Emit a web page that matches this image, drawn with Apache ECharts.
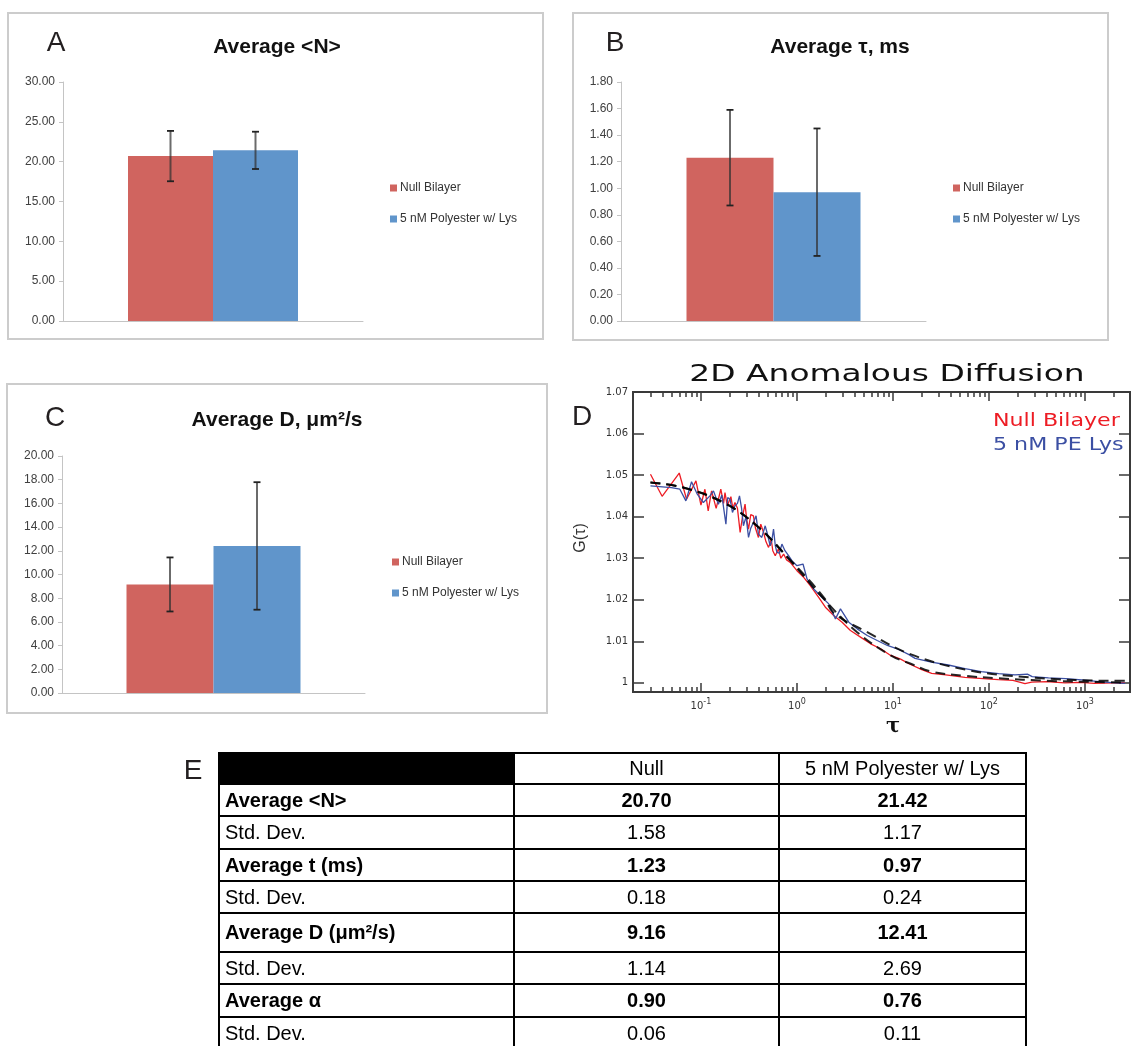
<!DOCTYPE html>
<html>
<head>
<meta charset="utf-8">
<script src="https://cdn.jsdelivr.net/npm/echarts@6.0.0/dist/echarts.min.js"></script>
<style>
html, body { margin: 0; padding: 0; background: #fff; }
#main { width: 1135px; height: 1046px; }
</style>
</head>
<body>
<div id="main"></div>
<script>
// A-C: one category, two groups, error bar = half width
var groups = ['Null Bilayer', '5 nM Polyester w/ Lys'];
var avgN = [20.70, 21.42];
var errN = [3.16, 2.34];
var avgTau = [1.23, 0.97];
var errTau = [0.36, 0.48];
var avgD = [9.16, 12.41];
var errD = [2.28, 5.38];

// D: [tau, G(tau)]
var nullData = [
  [0.0298, 1.0502], [0.0394, 1.0449], [0.0594, 1.0505], [0.0708, 1.0442], [0.0887, 1.0486],
  [0.100, 1.0428], [0.110, 1.0466], [0.119, 1.0414], [0.129, 1.0462], [0.144, 1.0420],
  [0.161, 1.0466], [0.172, 1.0432], [0.178, 1.0458], [0.188, 1.0426], [0.205, 1.0448],
  [0.215, 1.0420], [0.226, 1.0434], [0.240, 1.0420], [0.256, 1.0362], [0.270, 1.0398],
  [0.288, 1.0430], [0.300, 1.0392], [0.313, 1.0370], [0.330, 1.0405], [0.352, 1.0402],
  [0.370, 1.0372], [0.397, 1.0350], [0.420, 1.0382], [0.449, 1.0362], [0.475, 1.0340],
  [0.506, 1.0326], [0.540, 1.0345], [0.560, 1.0318], [0.594, 1.0306], [0.640, 1.0322],
  [0.680, 1.0300], [0.726, 1.0310], [0.780, 1.0296], [0.851, 1.0290], [1.00, 1.0270],
  [1.175, 1.0254], [1.377, 1.0234], [1.683, 1.0206], [1.977, 1.0182], [2.415, 1.0162],
  [2.951, 1.0146], [3.606, 1.0126], [4.592, 1.0110], [5.848, 1.0094], [7.430, 1.0082],
  [9.462, 1.0066], [12.02, 1.0057], [14.69, 1.0046], [19.95, 1.0032], [25.29, 1.0023],
  [35.48, 1.0019], [56.23, 1.0013], [79.43, 1.0011], [125.0, 1.0008], [177.8, 1.0006],
  [237.1, 0.9998], [278.6, 1.0002], [398.1, 1.0003], [616.6, 1.0000], [891.3, 1.0001],
  [1259, 0.9999], [1995, 1.0000], [2612, 1.0000]
];
var lysData = [
  [0.0298, 1.0474], [0.0493, 1.0470], [0.0603, 1.0466], [0.0697, 1.0438], [0.0798, 1.0484],
  [0.0916, 1.0454], [0.106, 1.0434], [0.124, 1.0450], [0.135, 1.0462], [0.152, 1.0430],
  [0.165, 1.0452], [0.182, 1.0382], [0.190, 1.0446], [0.201, 1.0442], [0.213, 1.0410],
  [0.226, 1.0426], [0.240, 1.0432], [0.252, 1.0450], [0.265, 1.0420], [0.277, 1.0378],
  [0.295, 1.0400], [0.313, 1.0350], [0.330, 1.0372], [0.352, 1.0386], [0.375, 1.0402],
  [0.397, 1.0358], [0.430, 1.0350], [0.467, 1.0378], [0.490, 1.0360], [0.526, 1.0330],
  [0.545, 1.0340], [0.570, 1.0370], [0.595, 1.0330], [0.618, 1.0314], [0.655, 1.0312],
  [0.697, 1.0334], [0.750, 1.0318], [0.818, 1.0306], [0.900, 1.0292], [1.00, 1.0282],
  [1.156, 1.0286], [1.274, 1.0250], [1.493, 1.0226], [1.824, 1.0206], [2.143, 1.0190],
  [2.518, 1.0154], [2.838, 1.0178], [3.467, 1.0146], [4.236, 1.0130], [5.395, 1.0114],
  [6.855, 1.0102], [8.730, 1.0090], [11.09, 1.0082], [14.69, 1.0068], [16.98, 1.0059],
  [25.12, 1.0050], [37.67, 1.0043], [56.23, 1.0034], [83.18, 1.0027], [125.9, 1.0022],
  [186.2, 1.0019], [251.2, 1.0021], [281.8, 1.0015], [416.9, 1.0012], [631.0, 1.0010],
  [924.7, 1.0007], [1585, 1.0002], [2612, 0.9999]
];
var nullFit = [
  [0.0298, 1.0482], [0.0653, 1.0470], [0.171, 1.0434], [0.382, 1.0378], [0.851, 1.0294],
  [1.901, 1.0202], [4.236, 1.0122], [9.462, 1.0066], [15.31, 1.0046], [25.29, 1.0027],
  [56.23, 1.0017], [125.0, 1.0011], [398.1, 1.0005], [1380, 1.0002], [2612, 1.0001]
];
var lysFit = [
  [0.0298, 1.0482], [0.0653, 1.0470], [0.171, 1.0434], [0.382, 1.0378], [0.851, 1.0296],
  [1.901, 1.0206], [2.415, 1.0168], [5.395, 1.0122], [14.45, 1.0071], [56.23, 1.0032],
  [278.6, 1.0013], [2239, 1.0005], [2612, 1.0005]
];
var decadeTicks = [0.1, 1, 10, 100, 1000];
var minorTicks = [0.03, 0.04, 0.05, 0.06, 0.07, 0.08, 0.09,
  0.2, 0.3, 0.4, 0.5, 0.6, 0.7, 0.8, 0.9,
  2, 3, 4, 5, 6, 7, 8, 9,
  20, 30, 40, 50, 60, 70, 80, 90,
  200, 300, 400, 500, 600, 700, 800, 900, 2000];
var gTicks = [1, 1.01, 1.02, 1.03, 1.04, 1.05, 1.06, 1.07];

// E
var colHead = ['Null', '5 nM Polyester w/ Lys'];
var rowNames = ['Average <N>', 'Std. Dev.', 'Average t (ms)', 'Std. Dev.',
  'Average D (\u03bcm\u00b2/s)', 'Std. Dev.', 'Average \u03b1', 'Std. Dev.'];
var nullVals = ['20.70', '1.58', '1.23', '0.18', '9.16', '1.14', '0.90', '0.06'];
var lysVals = ['21.42', '1.17', '0.97', '0.24', '12.41', '2.69', '0.76', '0.11'];

var RED = '#D0645F', BLUE = '#6095CB';
var barFont = '"Liberation Sans", Arial, sans-serif';
var plotFont = '"DejaVu Sans", sans-serif';

var chart = echarts.init(document.getElementById('main'), null, { renderer: 'canvas' });

var panels = [
  { grid: { left: 63, top: 82, width: 300, height: 239 }, max: 30, interval: 5, vals: avgN, errs: errN, barW: 85,
    title: 'Average <N>', tx: 277, ty: 47, letter: 'A', lx: 56, ly: 43, legX: 385, legY: 177,
    box: [8, 13, 535, 326] },
  { grid: { left: 621, top: 82, width: 305, height: 239 }, max: 1.8, interval: 0.2, vals: avgTau, errs: errTau, barW: 87,
    title: 'Average \u03c4, ms', tx: 840, ty: 47, letter: 'B', lx: 615, ly: 43, legX: 948, legY: 177,
    box: [573, 13, 535, 327] },
  { grid: { left: 62, top: 456, width: 303, height: 237 }, max: 20, interval: 2, vals: avgD, errs: errD, barW: 87,
    title: 'Average D, \u03bcm\u00b2/s', tx: 277, ty: 420, letter: 'C', lx: 55, ly: 418, legX: 387, legY: 551,
    box: [7, 384, 540, 329] }
];

function errItem(off) {
  return function (params, api) {
    var hi = api.coord([api.value(0), api.value(2)]);
    var lo = api.coord([api.value(0), api.value(1)]);
    var x = hi[0] + off;
    var capStyle = { stroke: '#222', lineWidth: 1.8 };
    return {
      type: 'group',
      children: [
        { type: 'line', shape: { x1: x, y1: hi[1], x2: x, y2: lo[1] }, style: { stroke: 'rgba(50,50,50,0.72)', lineWidth: 2 } },
        { type: 'line', shape: { x1: x - 3.5, y1: hi[1], x2: x + 3.5, y2: hi[1] }, style: capStyle },
        { type: 'line', shape: { x1: x - 3.5, y1: lo[1], x2: x + 3.5, y2: lo[1] }, style: capStyle }
      ]
    };
  };
}

var grids = [], xAxes = [], yAxes = [], series = [], legends = [], graphics = [];

panels.forEach(function (p, i) {
  grids.push(p.grid);
  xAxes.push({
    type: 'category', gridIndex: i, data: [''],
    axisLine: { lineStyle: { color: '#c4c4c4', width: 1 } },
    axisTick: { show: false }, axisLabel: { show: false }
  });
  yAxes.push({
    type: 'value', gridIndex: i, min: 0, max: p.max, interval: p.interval,
    axisLine: { show: true, lineStyle: { color: '#c4c4c4', width: 1 } },
    axisTick: { show: true, length: 4, lineStyle: { color: '#c4c4c4' } },
    splitLine: { show: false },
    axisLabel: { fontSize: 12, color: '#404040', fontFamily: barFont, margin: 8,
      formatter: function (v) { return v.toFixed(2); } }
  });
  [RED, BLUE].forEach(function (c, k) {
    series.push({
      type: 'bar', name: groups[k], xAxisIndex: i, yAxisIndex: i,
      data: [p.vals[k]], barWidth: p.barW, barGap: '0%',
      itemStyle: { color: c }, emphasis: { disabled: true }
    });
  });
  [0, 1].forEach(function (k) {
    series.push({
      type: 'custom', xAxisIndex: i, yAxisIndex: i, z: 5,
      renderItem: errItem(k === 0 ? -p.barW / 2 : p.barW / 2),
      encode: { x: 0, y: [1, 2] },
      data: [[0, p.vals[k] - p.errs[k], p.vals[k] + p.errs[k]]]
    });
  });
  legends.push({
    data: groups, orient: 'vertical', left: p.legX, top: p.legY,
    itemWidth: 7, itemHeight: 7, itemGap: 19, icon: 'rect', selectedMode: false,
    textStyle: { fontSize: 12, color: '#333', fontFamily: barFont, padding: [0, 0, 0, -2] }
  });
  graphics.push({ type: 'rect', shape: { x: p.box[0], y: p.box[1], width: p.box[2], height: p.box[3] },
    style: { fill: 'none', stroke: '#cccccc', lineWidth: 2 }, z: 0 });
  graphics.push({ type: 'text', x: p.tx, y: p.ty,
    style: { text: p.title, font: 'bold 21px ' + barFont, fill: '#111', align: 'center', verticalAlign: 'middle' } });
  graphics.push({ type: 'text', x: p.lx, y: p.ly,
    style: { text: p.letter, font: '28px ' + barFont, fill: '#231f20', align: 'center', verticalAlign: 'middle' } });
});

// D
grids.push({ left: 633, top: 392, width: 497, height: 300 });
var logMin = 0.0196, logMax = 2943;
var dark = '#3a3a3a';
function logAxis(pos, ticks, len, labels) {
  return {
    type: 'log', logBase: 10, gridIndex: 3, position: pos, min: logMin, max: logMax,
    axisLine: { show: true, onZero: false, lineStyle: { color: dark, width: 2 } },
    axisTick: { show: true, inside: true, length: len, customValues: ticks, lineStyle: { color: dark, width: 1.5 } },
    splitLine: { show: false }, minorTick: { show: false },
    axisLabel: labels ? {
      show: true, customValues: decadeTicks, margin: 6, color: '#333', fontFamily: plotFont, fontSize: 10,
      formatter: function (v) { return '10{s|' + Math.round(Math.log10(v)) + '}'; },
      rich: { s: { fontSize: 8, fontFamily: plotFont, color: '#333', padding: [0, 0, 9, 0] } }
    } : { show: false }
  };
}
xAxes.push(logAxis('bottom', decadeTicks, 9, true));
xAxes.push(logAxis('bottom', minorTicks, 5, false));
xAxes.push(logAxis('top', decadeTicks, 9, false));
xAxes.push(logAxis('top', minorTicks, 5, false));
function gAxis(pos, labels) {
  return {
    type: 'value', gridIndex: 3, position: pos, min: 0.9978, max: 1.07,
    axisLine: { show: true, onZero: false, lineStyle: { color: dark, width: 2 } },
    axisTick: { show: true, inside: true, length: 11, customValues: gTicks, lineStyle: { color: dark, width: 1.5 } },
    splitLine: { show: false },
    axisLabel: labels ? {
      show: true, customValues: gTicks, margin: 5, color: '#333', fontFamily: plotFont, fontSize: 10,
      formatter: function (v) { return Math.abs(v - 1) < 1e-9 ? '1' : v.toFixed(2); }
    } : { show: false }
  };
}
yAxes.push(gAxis('left', true));
yAxes.push(gAxis('right', false));

function dLine(name, data, color, width, dashed) {
  return {
    type: 'line', name: name, xAxisIndex: 3, yAxisIndex: 3, data: data,
    showSymbol: false, symbol: 'none', smooth: dashed ? 0.4 : false, z: dashed ? 4 : 3,
    lineStyle: { color: color, width: width, type: dashed ? [10, 6] : 'solid' },
    emphasis: { disabled: true }
  };
}
series.push(dLine('Null Bilayer D', nullData, '#ED1C24', 1.3, false));
series.push(dLine('5 nM PE Lys', lysData, '#3B4FA3', 1.3, false));
series.push(dLine('Null fit', nullFit, 'rgba(0,0,0,0.85)', 2, true));
series.push(dLine('Lys fit', lysFit, 'rgba(0,0,0,0.85)', 2, true));

graphics.push({ type: 'text', x: 887, y: 375, scaleX: 1.43,
  style: { text: '2D Anomalous Diffusion', font: '23px ' + plotFont, fill: '#111', align: 'center', verticalAlign: 'middle' } });
graphics.push({ type: 'text', x: 993, y: 421, scaleX: 1.23,
  style: { text: 'Null Bilayer', font: '18px ' + plotFont, fill: '#ED1C24', align: 'left', verticalAlign: 'middle' } });
graphics.push({ type: 'text', x: 993, y: 445, scaleX: 1.23,
  style: { text: '5 nM PE Lys', font: '18px ' + plotFont, fill: '#3B4FA3', align: 'left', verticalAlign: 'middle' } });
graphics.push({ type: 'text', x: 581, y: 538, rotation: Math.PI / 2,
  style: { text: 'G(\u03c4)', font: '16px ' + barFont, fill: '#333', align: 'center', verticalAlign: 'middle' } });
graphics.push({ type: 'text', x: 893, y: 727,
  style: { text: '\u03c4', font: 'bold 21px "DejaVu Serif", serif', fill: '#111', align: 'center', verticalAlign: 'middle' } });
graphics.push({ type: 'text', x: 582, y: 417,
  style: { text: 'D', font: '28px ' + barFont, fill: '#231f20', align: 'center', verticalAlign: 'middle' } });

// E table
var colX = [219, 514, 779, 1026];
var rowY = [753, 784, 816, 849, 881, 913, 952, 984, 1017, 1049];
graphics.push({ type: 'text', x: 193, y: 771,
  style: { text: 'E', font: '28px ' + barFont, fill: '#231f20', align: 'center', verticalAlign: 'middle' } });
function cell(c, r, fill) {
  graphics.push({ type: 'rect', shape: { x: colX[c], y: rowY[r], width: colX[c + 1] - colX[c], height: rowY[r + 1] - rowY[r] },
    style: { fill: fill, stroke: '#000', lineWidth: 2 } });
}
function cellText(txt, x, y, bold, align) {
  graphics.push({ type: 'text', x: x, y: y, z: 10,
    style: { text: txt, font: (bold ? 'bold ' : '') + '20px ' + barFont, fill: '#000', align: align, verticalAlign: 'middle' } });
}
cell(0, 0, '#000'); cell(1, 0, '#fff'); cell(2, 0, '#fff');
cellText(colHead[0], (colX[1] + colX[2]) / 2, (rowY[0] + rowY[1]) / 2 + 1, false, 'center');
cellText(colHead[1], (colX[2] + colX[3]) / 2, (rowY[0] + rowY[1]) / 2 + 1, false, 'center');
rowNames.forEach(function (name, i) {
  var r = i + 1, bold = i % 2 === 0;
  var cy = (rowY[r] + rowY[r + 1]) / 2 + 1;
  cell(0, r, '#fff'); cell(1, r, '#fff'); cell(2, r, '#fff');
  cellText(name, colX[0] + 6, cy, bold, 'left');
  cellText(nullVals[i], (colX[1] + colX[2]) / 2, cy, bold, 'center');
  cellText(lysVals[i], (colX[2] + colX[3]) / 2, cy, bold, 'center');
});

chart.setOption({
  backgroundColor: '#fff',
  animation: false,
  grid: grids,
  xAxis: xAxes,
  yAxis: yAxes,
  legend: legends,
  series: series,
  graphic: { elements: graphics }
});
</script>
</body>
</html>
